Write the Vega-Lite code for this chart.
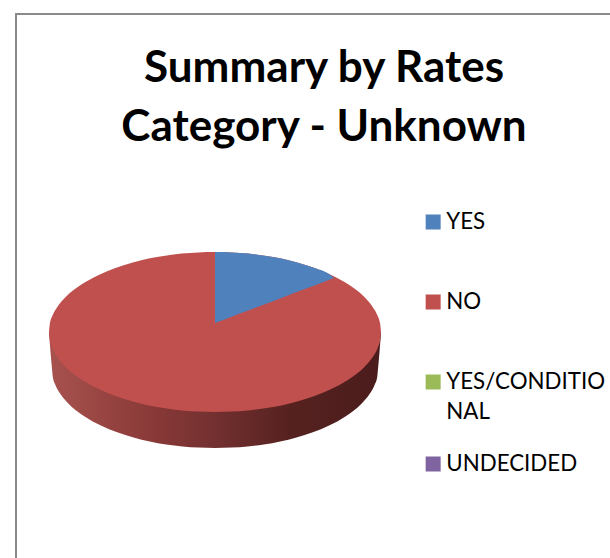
{
"$schema":"https://vega.github.io/schema/vega-lite/v6.json",
"width":610,"height":558,"padding":0,"autosize":"none","background":"white",
"config":{"view":{"stroke":null},"font":"Lato","style":{"guide-label":{"lineHeight":30}}},
"title":{"text":["Summary by Rates","Category - Unknown"],"font":"Lato","fontWeight":"bold","fontSize":44,"lineHeight":59,"color":"#000000","anchor":"middle","dx":19,"offset":-150,"orient":"top"},
"datasets":{
"frame":[{"x":16,"y":558},{"x":16,"y":14},{"x":610,"y":14}],
"wall":[
{"x":49,"top":332,"bottom":333},{"x":52,"top":332,"bottom":369},{"x":52.8,"top":332,"bottom":376.9},{"x":55.3,"top":332,"bottom":384.7},{"x":60.1,"top":332,"bottom":393.6},{"x":68.3,"top":332,"bottom":403.4},{"x":84.6,"top":332,"bottom":416.4},{"x":100.9,"top":332,"bottom":425.4},{"x":117.2,"top":332,"bottom":432.2},{"x":133.5,"top":332,"bottom":437.4},{"x":149.8,"top":332,"bottom":441.4},{"x":166.1,"top":332,"bottom":444.4},{"x":182.4,"top":332,"bottom":446.4},{"x":198.7,"top":332,"bottom":447.6},{"x":215,"top":332,"bottom":448},{"x":231.3,"top":332,"bottom":447.6},{"x":247.6,"top":332,"bottom":446.4},{"x":263.9,"top":332,"bottom":444.4},{"x":280.2,"top":332,"bottom":441.4},{"x":296.5,"top":332,"bottom":437.4},{"x":312.8,"top":332,"bottom":432.2},{"x":329.1,"top":332,"bottom":425.4},{"x":345.4,"top":332,"bottom":416.4},{"x":361.7,"top":332,"bottom":403.4},{"x":369.9,"top":332,"bottom":393.6},{"x":374.7,"top":332,"bottom":384.7},{"x":377.2,"top":332,"bottom":376.9},{"x":378,"top":332,"bottom":369},{"x":381,"top":332,"bottom":333}],
"slices":[
{"category":"NO","x":49,"top":332,"bottom":332},{"category":"NO","x":49.8,"top":324,"bottom":340},{"category":"NO","x":52.3,"top":316.1,"bottom":347.9},{"category":"NO","x":57.3,"top":307,"bottom":357},{"category":"NO","x":65.6,"top":297.1,"bottom":366.9},{"category":"NO","x":82.2,"top":284,"bottom":380},{"category":"NO","x":98.8,"top":274.9,"bottom":389.1},{"category":"NO","x":115.4,"top":268,"bottom":396},{"category":"NO","x":132,"top":262.7,"bottom":401.3},{"category":"NO","x":148.6,"top":258.6,"bottom":405.4},{"category":"NO","x":165.2,"top":255.7,"bottom":408.3},{"category":"NO","x":181.8,"top":253.6,"bottom":410.4},{"category":"NO","x":198.4,"top":252.4,"bottom":411.6},{"category":"NO","x":215,"top":252,"bottom":412},{"category":"NO","x":231.6,"top":252.4,"bottom":411.6},{"category":"NO","x":248.2,"top":253.6,"bottom":410.4},{"category":"NO","x":264.8,"top":255.7,"bottom":408.3},{"category":"NO","x":281.4,"top":258.6,"bottom":405.4},{"category":"NO","x":298,"top":262.7,"bottom":401.3},{"category":"NO","x":314.6,"top":268,"bottom":396},{"category":"NO","x":331.2,"top":274.9,"bottom":389.1},{"category":"NO","x":347.8,"top":284,"bottom":380},{"category":"NO","x":364.4,"top":297.1,"bottom":366.9},{"category":"NO","x":372.7,"top":307,"bottom":357},{"category":"NO","x":377.7,"top":316.1,"bottom":347.9},{"category":"NO","x":380.2,"top":324,"bottom":340},{"category":"NO","x":381,"top":332,"bottom":332},
{"category":"YES","x":215,"top":252,"bottom":323},{"category":"YES","x":231.6,"top":252.4,"bottom":316.7},{"category":"YES","x":248.2,"top":253.6,"bottom":310.5},{"category":"YES","x":264.8,"top":255.7,"bottom":304.2},{"category":"YES","x":281.4,"top":258.6,"bottom":297.9},{"category":"YES","x":298,"top":262.7,"bottom":291.6},{"category":"YES","x":314.6,"top":268,"bottom":285.4},{"category":"YES","x":331.2,"top":275.5,"bottom":279.1},{"category":"YES","x":334,"top":278,"bottom":278}]
},
"layer":[
{"data":{"name":"frame"},"mark":{"type":"line","color":"#8a8a8a","strokeWidth":2,"clip":true},
"encoding":{"x":{"field":"x","type":"quantitative","scale":{"domain":[0,610],"nice":false},"axis":null},"y":{"field":"y","type":"quantitative","scale":{"domain":[558,0],"nice":false},"axis":null},"order":{"field":"y","sort":"descending"}}},
{"data":{"name":"wall"},"mark":{"type":"area","interpolate":"monotone","color":{"gradient":"linear","x1":0,"y1":0,"x2":1,"y2":0,"stops":[{"offset":0,"color":"#a8524f"},{"offset":0.3,"color":"#8a3a38"},{"offset":0.5,"color":"#733030"},{"offset":0.72,"color":"#562220"},{"offset":1,"color":"#4a1c1b"}]}},
"encoding":{"x":{"field":"x","type":"quantitative","axis":null},"y":{"field":"top","type":"quantitative","axis":null},"y2":{"field":"bottom"}}},
{"data":{"name":"slices"},"transform":[{"filter":"datum.category==='NO'"}],"mark":{"type":"area","interpolate":"monotone"},
"encoding":{"x":{"field":"x","type":"quantitative","axis":null},"y":{"field":"top","type":"quantitative","axis":null},"y2":{"field":"bottom"},
"color":{"field":"category","type":"nominal","sort":null,"scale":{"domain":["YES","NO","YES/CONDITIONAL","UNDECIDED"],"range":["#4f81bd","#c0504d","#9bbb59","#8064a2"]},
"legend":{"title":null,"orient":"none","legendX":422,"legendY":182,"symbolType":"square","symbolSize":225,"symbolStrokeWidth":0,"labelFont":"Lato","labelFontSize":22.3,"labelColor":"#000000","labelLimit":400,"labelOffset":2,"clipHeight":80,"rowPadding":0,"labelExpr":"datum.label==='YES/CONDITIONAL'?['YES/CONDITIO','NAL']:datum.label"}}}},
{"data":{"name":"slices"},"transform":[{"filter":"datum.category==='YES'"}],"mark":{"type":"area","interpolate":"monotone"},
"encoding":{"x":{"field":"x","type":"quantitative","axis":null},"y":{"field":"top","type":"quantitative","axis":null},"y2":{"field":"bottom"},"color":{"field":"category","type":"nominal"}}}
]
}
